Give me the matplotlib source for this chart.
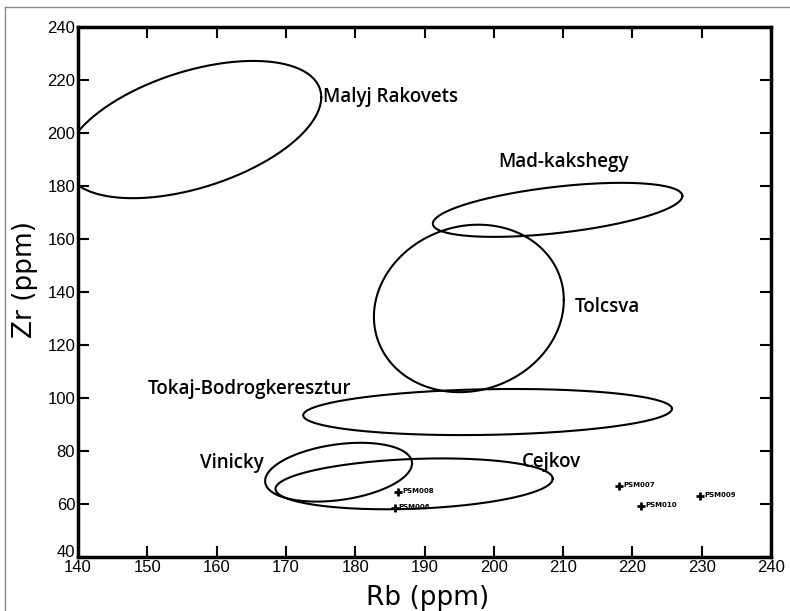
import numpy as np
import matplotlib
matplotlib.use('Agg')
import matplotlib.pyplot as plt
import matplotlib.transforms as mtransforms
from matplotlib.lines import Line2D

# compositional fields (Rb vs Zr), each drawn as an ellipse
# x = cx + wx*cos(t), y = cy + hy*cos(t - acos(tilt))
regions = ['Malyj Rakovets', 'Mad-kakshegy', 'Tolcsva', 'Tokaj-Bodrogkeresztur', 'Vinicky', 'Cejkov']
cx = [156.6, 209.2, 196.4, 199.1, 177.6, 188.5]
cy = [201.3, 171.0, 133.8, 94.7, 72.0, 67.6]
wx = [18.5, 18.0, 13.7, 26.6, 10.6, 20.0]
hy = [25.9, 10.2, 31.6, 8.7, 11.1, 9.6]
tilt = [0.47, 0.51, 0.10, 0.14, 0.30, 0.20]

# label anchors (left edge, middle)
lab_x = [175.3, 200.6, 211.7, 150.1, 157.6, 204.0]
lab_y = [213.5, 189.0, 134.5, 103.3, 75.3, 75.8]

# samples
samples = ['PSM008', 'PSM006', 'PSM007', 'PSM010', 'PSM009']
rb = [186.2, 185.7, 218.1, 221.2, 229.8]
zr = [64.6, 58.6, 66.8, 59.4, 63.0]

fig = plt.figure(figsize=(7.9, 6.11), dpi=100)
ax = fig.add_axes([0.0987, 0.0884, 0.8773, 0.8674])

t = np.linspace(0, 2 * np.pi, 400)
for i, name in enumerate(regions):
    phi = np.arccos(tilt[i])
    ax.plot(cx[i] + wx[i] * np.cos(t), cy[i] + hy[i] * np.cos(t - phi), color='black', lw=1.5)
    ax.text(lab_x[i], lab_y[i], name, fontsize=13.5, family='Open Sans', fontweight='semibold',
            va='center', ha='left')

ax.plot(rb, zr, '+', color='black', ms=6, mew=2)
for s, x, y in zip(samples, rb, zr):
    ax.text(x + 0.6, y + 0.4, s, fontsize=5, fontweight='bold', va='center', ha='left')

ax.set_xlim(140, 240)
ax.set_ylim(40, 240)
ax.set_xticks(np.arange(140, 241, 10))
ax.set_yticks(np.arange(40, 241, 20))
tick_font = ['Liberation Sans Narrow', 'Liberation Sans']
for lbl in ax.get_xticklabels() + ax.get_yticklabels():
    lbl.set_family(tick_font)
    lbl.set_fontsize(12)
ax.tick_params(direction='in', length=8, width=1.5, top=True, right=True, pad=2)
# the lowest y label sits a little above the corner, as in the original
first = ax.get_yticklabels()[0]
first.set_transform(first.get_transform() + mtransforms.ScaledTranslation(0, 4 / 72, fig.dpi_scale_trans))
for sp in ax.spines.values():
    sp.set_linewidth(2.5)

ax.set_xlabel('Rb (ppm)', fontsize=19, family='DejaVu Sans')
ax.set_ylabel('Zr (ppm)', fontsize=19, family='DejaVu Sans')
ax.xaxis.set_label_coords(0.504, -0.052)
ax.yaxis.set_label_coords(-0.058, 0.523)

# thin frame around the figure
fig.add_artist(Line2D([5 / 790, 1], [1 - 7 / 611, 1 - 7 / 611], color='#888888', lw=1))
fig.add_artist(Line2D([5 / 790, 5 / 790], [0, 1 - 7 / 611], color='#888888', lw=1))

fig.savefig('out.png', dpi=100, facecolor='white')
